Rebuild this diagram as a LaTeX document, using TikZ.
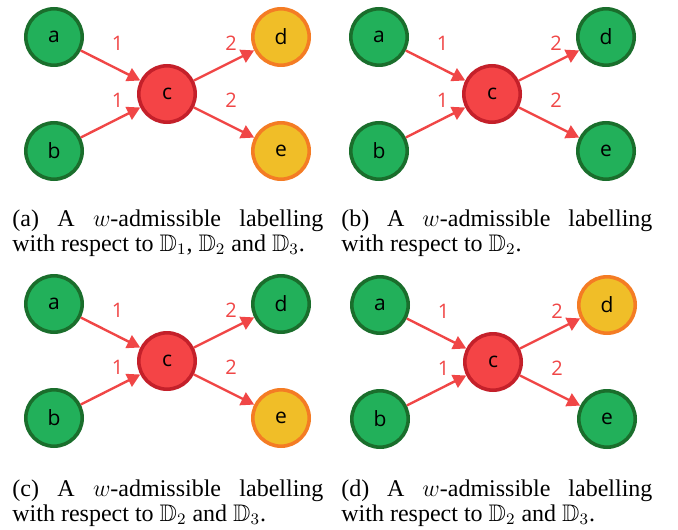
\documentclass[tikz,border=0pt]{standalone}
\usepackage{amssymb}
\usepackage{fontspec}
\setmainfont{Liberation Serif}
\newfontfamily\nodefont{Open Sans}
\usetikzlibrary{arrows.meta}

\definecolor{okfill}{RGB}{34,176,90}
\definecolor{okline}{RGB}{26,110,44}
\definecolor{badfill}{RGB}{244,68,70}
\definecolor{badline}{RGB}{196,32,42}
\definecolor{midfill}{RGB}{240,190,40}
\definecolor{midline}{RGB}{244,124,36}
\definecolor{edgered}{RGB}{240,70,70}

\setlength\parindent{0pt}

\tikzset{
  vert/.style={circle,line width=1.8pt,minimum size=28.2pt,inner sep=0pt,
    font=\nodefont\fontsize{10.5}{11}\selectfont},
  inlab/.style={vert,draw=okline,fill=okfill},
  outlab/.style={vert,draw=badline,fill=badfill},
  undeclab/.style={vert,draw=midline,fill=midfill},
  wedge/.style={draw=edgered,line width=1.2pt,-{Triangle[length=6.5pt,width=7pt]}},
  wlab/.style={text=edgered,font=\nodefont\fontsize{10}{11}\selectfont,
    inner sep=0pt,xshift=3.5pt,yshift=11pt},
  capt/.style={text width=155.5pt,align=justify,anchor=base west,inner sep=0pt,
    font=\fontsize{12}{12.5}\selectfont}
}

% one labelled graph: prefix, style of d, style of e, shift
\newcommand\wgraph[4]{%
  \begin{scope}[shift={#4}]
    \node[inlab] (#1a) at (54,37) {a};
    \node[inlab] (#1b) at (54,151) {b};
    \node[outlab] (#1c) at (167,94) {c};
    \node[#2] (#1d) at (281,37) {d};
    \node[#3] (#1e) at (281,151) {e};
    \draw[wedge] (#1a) -- node[wlab] {1} (#1c);
    \draw[wedge] (#1b) -- node[wlab] {1} (#1c);
    \draw[wedge] (#1c) -- node[wlab] {2} (#1d);
    \draw[wedge] (#1c) -- node[wlab] {2} (#1e);
  \end{scope}}

\begin{document}
\begin{tikzpicture}[x=0.5pt,y=-0.5pt]
  \useasboundingbox (0,0) rectangle (678,529);

  \wgraph{A}{undeclab}{undeclab}{(0,0)}
  \wgraph{B}{inlab}{inlab}{(325,0)}
  \wgraph{C}{inlab}{undeclab}{(0,267)}
  \wgraph{D}{undeclab}{inlab}{(326,268)}

  \node[capt] (capA) at (12,226) {(a) A $w$-admissible labelling\linebreak
    with respect to $\mathbb{D}_1$, $\mathbb{D}_2$ and $\mathbb{D}_3$.};
  \node[capt] (capB) at (341,226) {(b) A $w$-admissible labelling\linebreak
    with respect to $\mathbb{D}_2$.};
  \node[capt] (capC) at (12,496) {(c) A $w$-admissible labelling\linebreak
    with respect to $\mathbb{D}_2$ and $\mathbb{D}_3$.};
  \node[capt] (capD) at (341,496) {(d) A $w$-admissible labelling\linebreak
    with respect to $\mathbb{D}_2$ and $\mathbb{D}_3$.};
\end{tikzpicture}
\end{document}
